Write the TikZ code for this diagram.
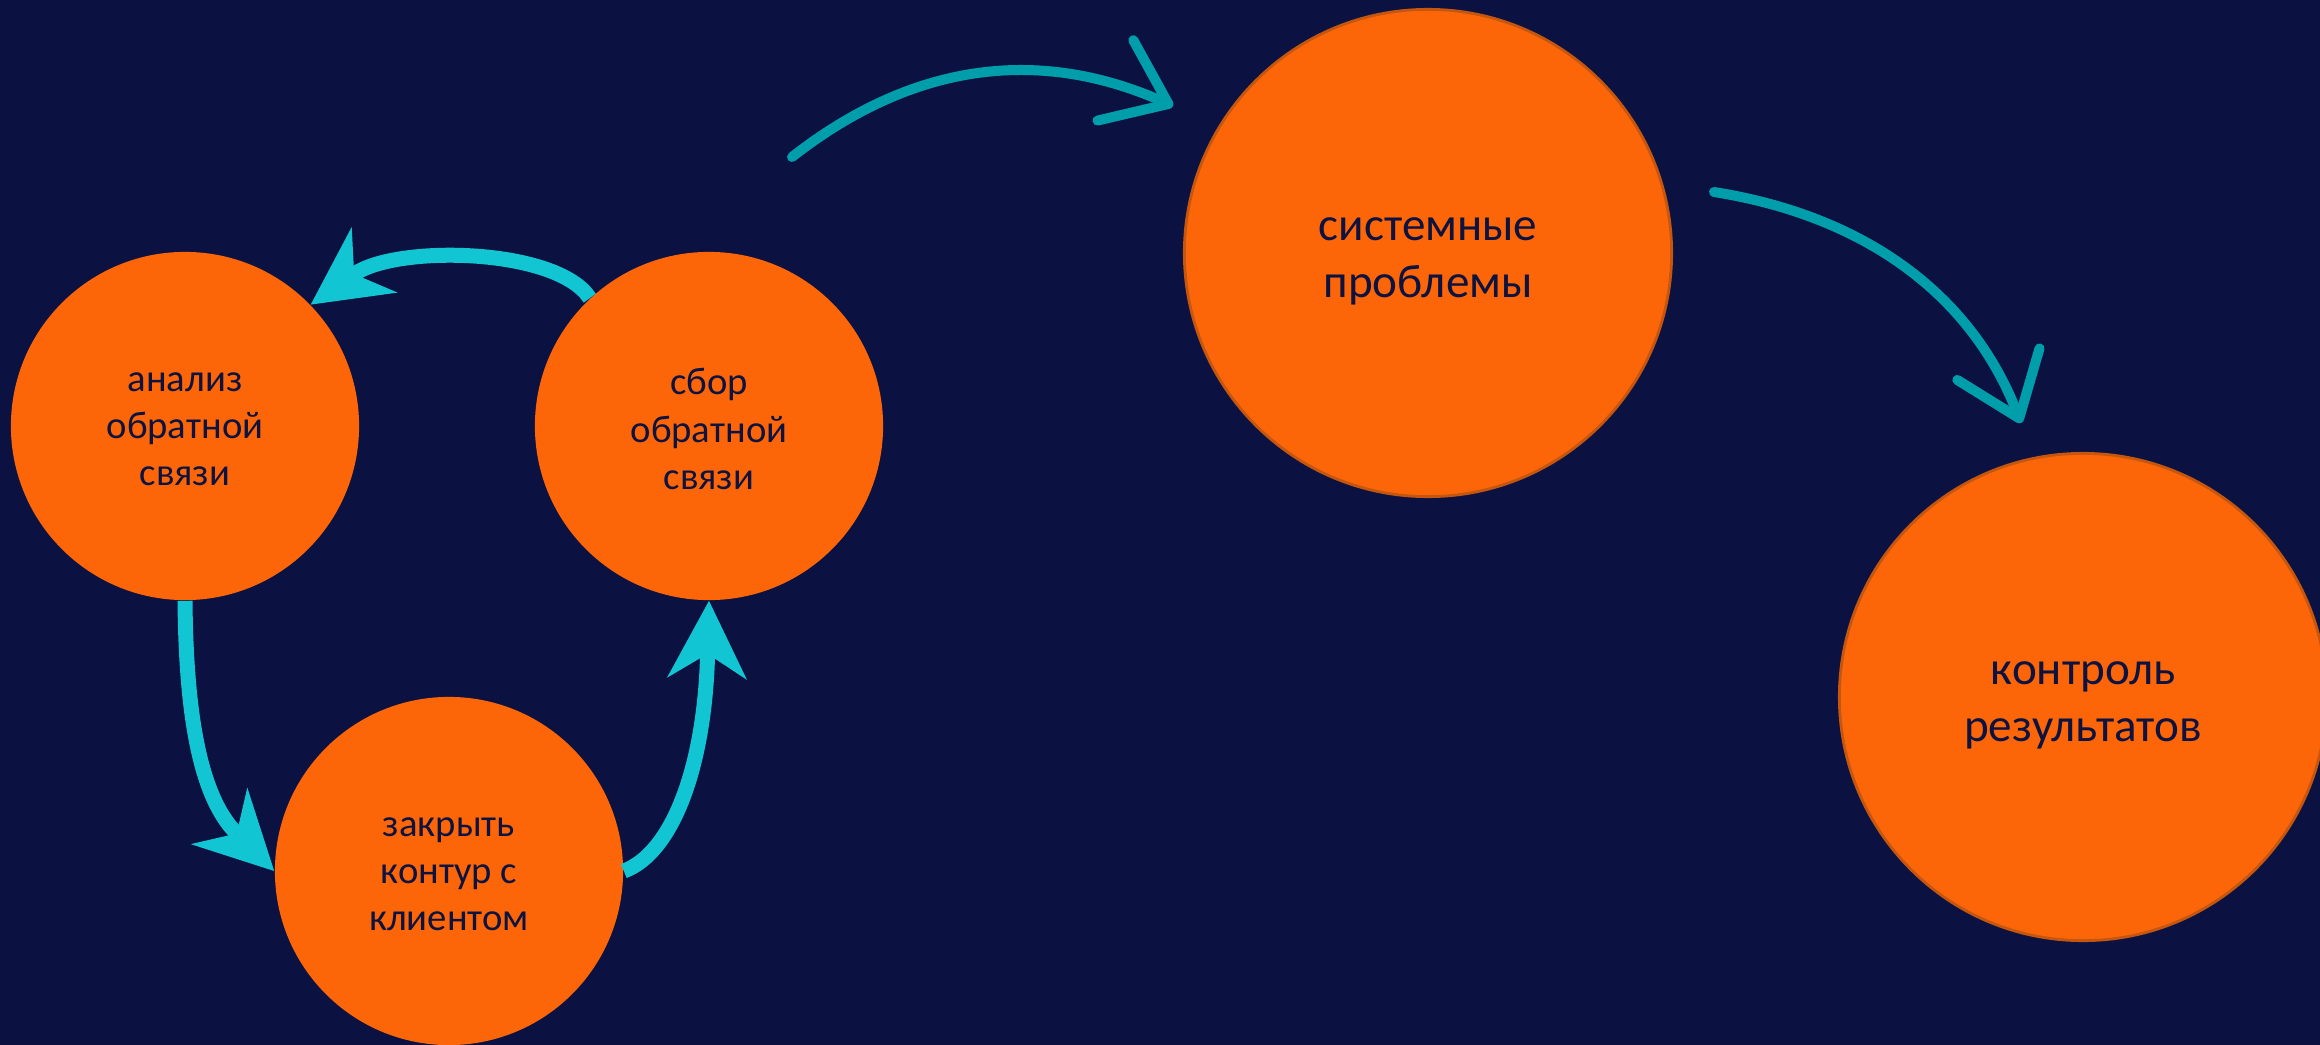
\documentclass[tikz,border=0pt]{standalone}
\usepackage{fontspec}
\setmainfont{Carlito}
\usetikzlibrary{arrows.meta}
\definecolor{bg}{HTML}{0B1241}
\definecolor{disc}{HTML}{FD6608}
\definecolor{rim}{HTML}{C4560F}
\definecolor{ink}{HTML}{0C1340}
\definecolor{cyclec}{HTML}{12C5D2}
\definecolor{flowc}{HTML}{009DAA}
\begin{document}
\begin{tikzpicture}[x=0.01cm,y=0.01cm,
  smalldisc/.style={circle,fill=disc,minimum size=3.48cm,inner sep=0pt},
  bigdisc/.style={circle,fill=disc,draw=rim,line width=0.8pt,minimum size=4.87cm,inner sep=0pt},
  smalltext/.style={align=center,text=ink,inner sep=0pt,yshift=-0.03cm,
    font=\fontsize{11}{13.4}\selectfont},
  bigtext/.style={align=center,text=ink,inner sep=0pt,yshift=-0.08cm,
    font=\fontsize{13.4}{16.2}\selectfont},
  cyclearrow/.style={draw=cyclec,line width=0.15cm,
    -{Stealth[length=0.78cm,width=0.8cm,inset=0.25cm,line width=0pt]}},
  flowarrow/.style={draw=flowc,line width=0.1cm,line cap=round,
    -{Straight Barb[length=0.58cm,width=0.88cm,round]}}
]
\useasboundingbox (0,0) rectangle (2320,-1045);
\fill[bg] (0,0) rectangle (2320,-1045);

% feedback loop
\node[smalldisc,label={[smalltext]center:анализ\\обратной\\связи}] (analiz) at (185,-426) {};
\node[smalldisc,label={[smalltext]center:сбор\\обратной\\связи}] (sbor) at (709,-426) {};
\node[smalldisc,label={[smalltext]center:закрыть\\контур с\\клиентом}] (zakryt) at (449,-871) {};

% escalation chain
\node[bigdisc,label={[bigtext]center:системные\\проблемы}] (sys) at (1428,-253) {};
\node[bigdisc,label={[bigtext]center:контроль\\результатов}] (ctrl) at (2083,-697) {};

\draw[cyclearrow] (sbor.133) .. controls +(123:60) and +(35:105) .. (analiz.44);
\draw[cyclearrow] (analiz.south) .. controls +(1,-100) and +(135:110) .. (zakryt.west);
\draw[cyclearrow] (zakryt.east) .. controls +(20:50) and +(268.5:170) .. (sbor.south);

\coordinate (f1a) at (792,-157);
\coordinate (f1b) at (1173,-106);
\draw[flowarrow] (f1a) .. controls +(38:150) and +(156:150) .. (f1b);

\coordinate (f2a) at (1714,-192);
\coordinate (f2b) at (2021,-423);
\draw[flowarrow] (f2a) .. controls +(-9:150) and +(111:140) .. (f2b);
\end{tikzpicture}
\end{document}
